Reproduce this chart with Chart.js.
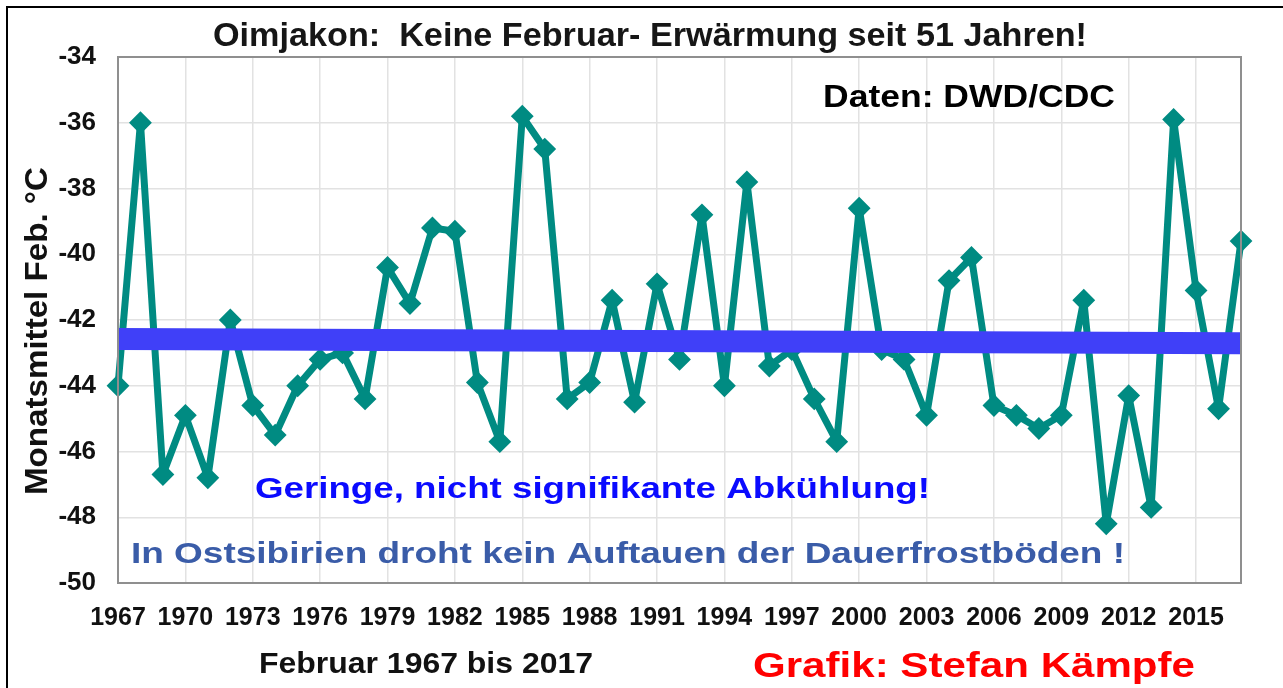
<!DOCTYPE html>
<html>
<head>
<meta charset="utf-8">
<title>Oimjakon Februar</title>
<script src="https://cdn.jsdelivr.net/npm/chart.js"></script>
<style>
  body { margin: 0; background: #fff; }
  canvas { display: block; }
</style>
</head>
<body>
<canvas id="feb_chart" width="1283" height="688"></canvas>
<script>

// Februar-Monatsmittel Oimjakon, 1967 - 2017
var years = [];
for (var y = 1967; y <= 2017; y++) { years.push(String(y)); }

var feb_temp = [
  -44.0, -36.0, -46.7, -44.9, -46.8, -42.0, -44.6, -45.5, -44.0, -43.2,
  -43.0, -44.4, -40.4, -41.5, -39.2, -39.3, -43.9, -45.7, -35.8, -36.8,
  -44.4, -43.9, -41.4, -44.5, -40.9, -43.2, -38.8, -44.0, -37.8, -43.4,
  -42.9, -44.4, -45.7, -38.6, -42.9, -43.2, -44.9, -40.8, -40.1, -44.6,
  -44.9, -45.3, -44.9, -41.4, -48.2, -44.3, -47.7, -35.9, -41.1, -44.7,
  -39.6
];

// linearer Trend, Anfangs- und Endwert
var trend_start = -42.58;
var trend_end = -42.71;

var y_ticks = [-50, -48, -46, -44, -42, -40, -38, -36, -34];
var tick_every = 3;

var FONT = '"Liberation Sans", Arial, sans-serif';

// text stretched a little to match the width of the original graphic
function fitText(ctx, text, font, color, x1, x2, base) {
  ctx.save();
  ctx.font = font;
  var w = ctx.measureText(text).width;
  ctx.translate(x1, base);
  ctx.scale((x2 - x1) / w, 1);
  ctx.fillStyle = color;
  ctx.textAlign = 'left';
  ctx.textBaseline = 'alphabetic';
  ctx.fillText(text, 0, 0);
  ctx.restore();
}

var framePlugin = {
  id: 'frame',
  beforeDraw: function(chart) {
    var ctx = chart.ctx;
    ctx.save();
    ctx.fillStyle = '#ffffff';
    ctx.fillRect(0, 0, chart.width, chart.height);
    ctx.strokeStyle = '#000';
    ctx.lineWidth = 2;
    ctx.beginPath();
    ctx.moveTo(7, chart.height);
    ctx.lineTo(7, 7);
    ctx.lineTo(chart.width, 7);
    ctx.stroke();
    ctx.restore();
  },
  afterDraw: function(chart) {
    var ctx = chart.ctx;
    var a = chart.chartArea;
    ctx.save();
    ctx.strokeStyle = '#8f8f8f';
    ctx.lineWidth = 2;
    ctx.strokeRect(a.left, a.top, a.right - a.left, a.bottom - a.top);
    ctx.restore();

    fitText(ctx, 'Oimjakon:  Keine Februar- Erwärmung seit 51 Jahren!', 'bold 33px ' + FONT, '#161616', 213, 1087, 46);
    fitText(ctx, 'Daten: DWD/CDC', 'bold 31px ' + FONT, '#000', 823, 1115, 107);
    fitText(ctx, 'Geringe, nicht signifikante Abkühlung!', 'bold 29px ' + FONT, '#0a0aff', 255, 930, 498);
    fitText(ctx, 'In Ostsibirien droht kein Auftauen der Dauerfrostböden !', 'bold 30px ' + FONT, '#3a5ca8', 131, 1125, 563);
    fitText(ctx, 'Februar 1967 bis 2017', 'bold 29px ' + FONT, '#111', 259, 593, 673);
    fitText(ctx, 'Grafik: Stefan Kämpfe', 'bold 35px ' + FONT, '#ff0000', 753, 1195, 677);

    // y axis title, rotated
    ctx.save();
    ctx.translate(47, 495);
    ctx.rotate(-Math.PI / 2);
    fitText(ctx, 'Monatsmittel Feb. °C', 'bold 32px ' + FONT, '#111', 0, 328, 0);
    ctx.restore();
  }
};

var ctx = document.getElementById('feb_chart');
var feb_chart = new Chart(ctx, {
  type: 'line',
  data: {
    labels: years,
    datasets: [
      {
        label: 'Trend',
        data: [
          { x: years[0], y: trend_start },
          { x: years[years.length - 1], y: trend_end }
        ],
        borderColor: '#4040f8',
        borderWidth: 22,
        borderCapStyle: 'butt',
        pointRadius: 0,
        fill: false
      },
      {
        label: 'Februar',
        data: feb_temp,
        borderColor: '#008b82',
        backgroundColor: '#008b82',
        borderWidth: 7,
        pointStyle: 'rectRot',
        pointRadius: 10,
        pointBorderWidth: 2,
        pointBorderColor: '#008b82',
        pointBackgroundColor: '#008b82',
        borderJoinStyle: 'round',
        fill: false,
        tension: 0
      }
    ]
  },
  options: {
    responsive: false,
    animation: false,
    layout: { padding: { left: 0, top: 57, right: 42, bottom: 0 } },
    plugins: {
      legend: { display: false },
      title: { display: false },
      tooltip: { enabled: false }
    },
    scales: {
      x: {
        type: 'category',
        offset: false,
        afterFit: function(scale) { scale.height = 105; },
        // keep only every third year as tick (label + grid line)
        afterBuildTicks: function(scale) {
          scale.ticks = scale.ticks.filter(function(t) { return t.value % tick_every === 0; });
        },
        grid: {
          color: '#e2e2e2',
          lineWidth: 1.5,
          drawTicks: false
        },
        border: { color: '#8f8f8f', width: 2 },
        ticks: {
          autoSkip: false,
          maxRotation: 0,
          minRotation: 0,
          padding: 20,
          color: '#111',
          font: { family: FONT, size: 25, weight: 'bold' },
          callback: function(val) { return years[val]; }
        }
      },
      y: {
        min: y_ticks[0],
        max: y_ticks[y_ticks.length - 1],
        afterFit: function(scale) { scale.width = 118; },
        afterBuildTicks: function(scale) {
          scale.ticks = y_ticks.map(function(v) { return { value: v }; });
        },
        grid: { color: '#e2e2e2', lineWidth: 1.5, drawTicks: false },
        border: { color: '#8f8f8f', width: 2 },
        ticks: {
          padding: 22,
          color: '#111',
          font: { family: FONT, size: 26, weight: 'bold' }
        }
      }
    }
  },
  plugins: [framePlugin]
});

</script>
</body>
</html>
